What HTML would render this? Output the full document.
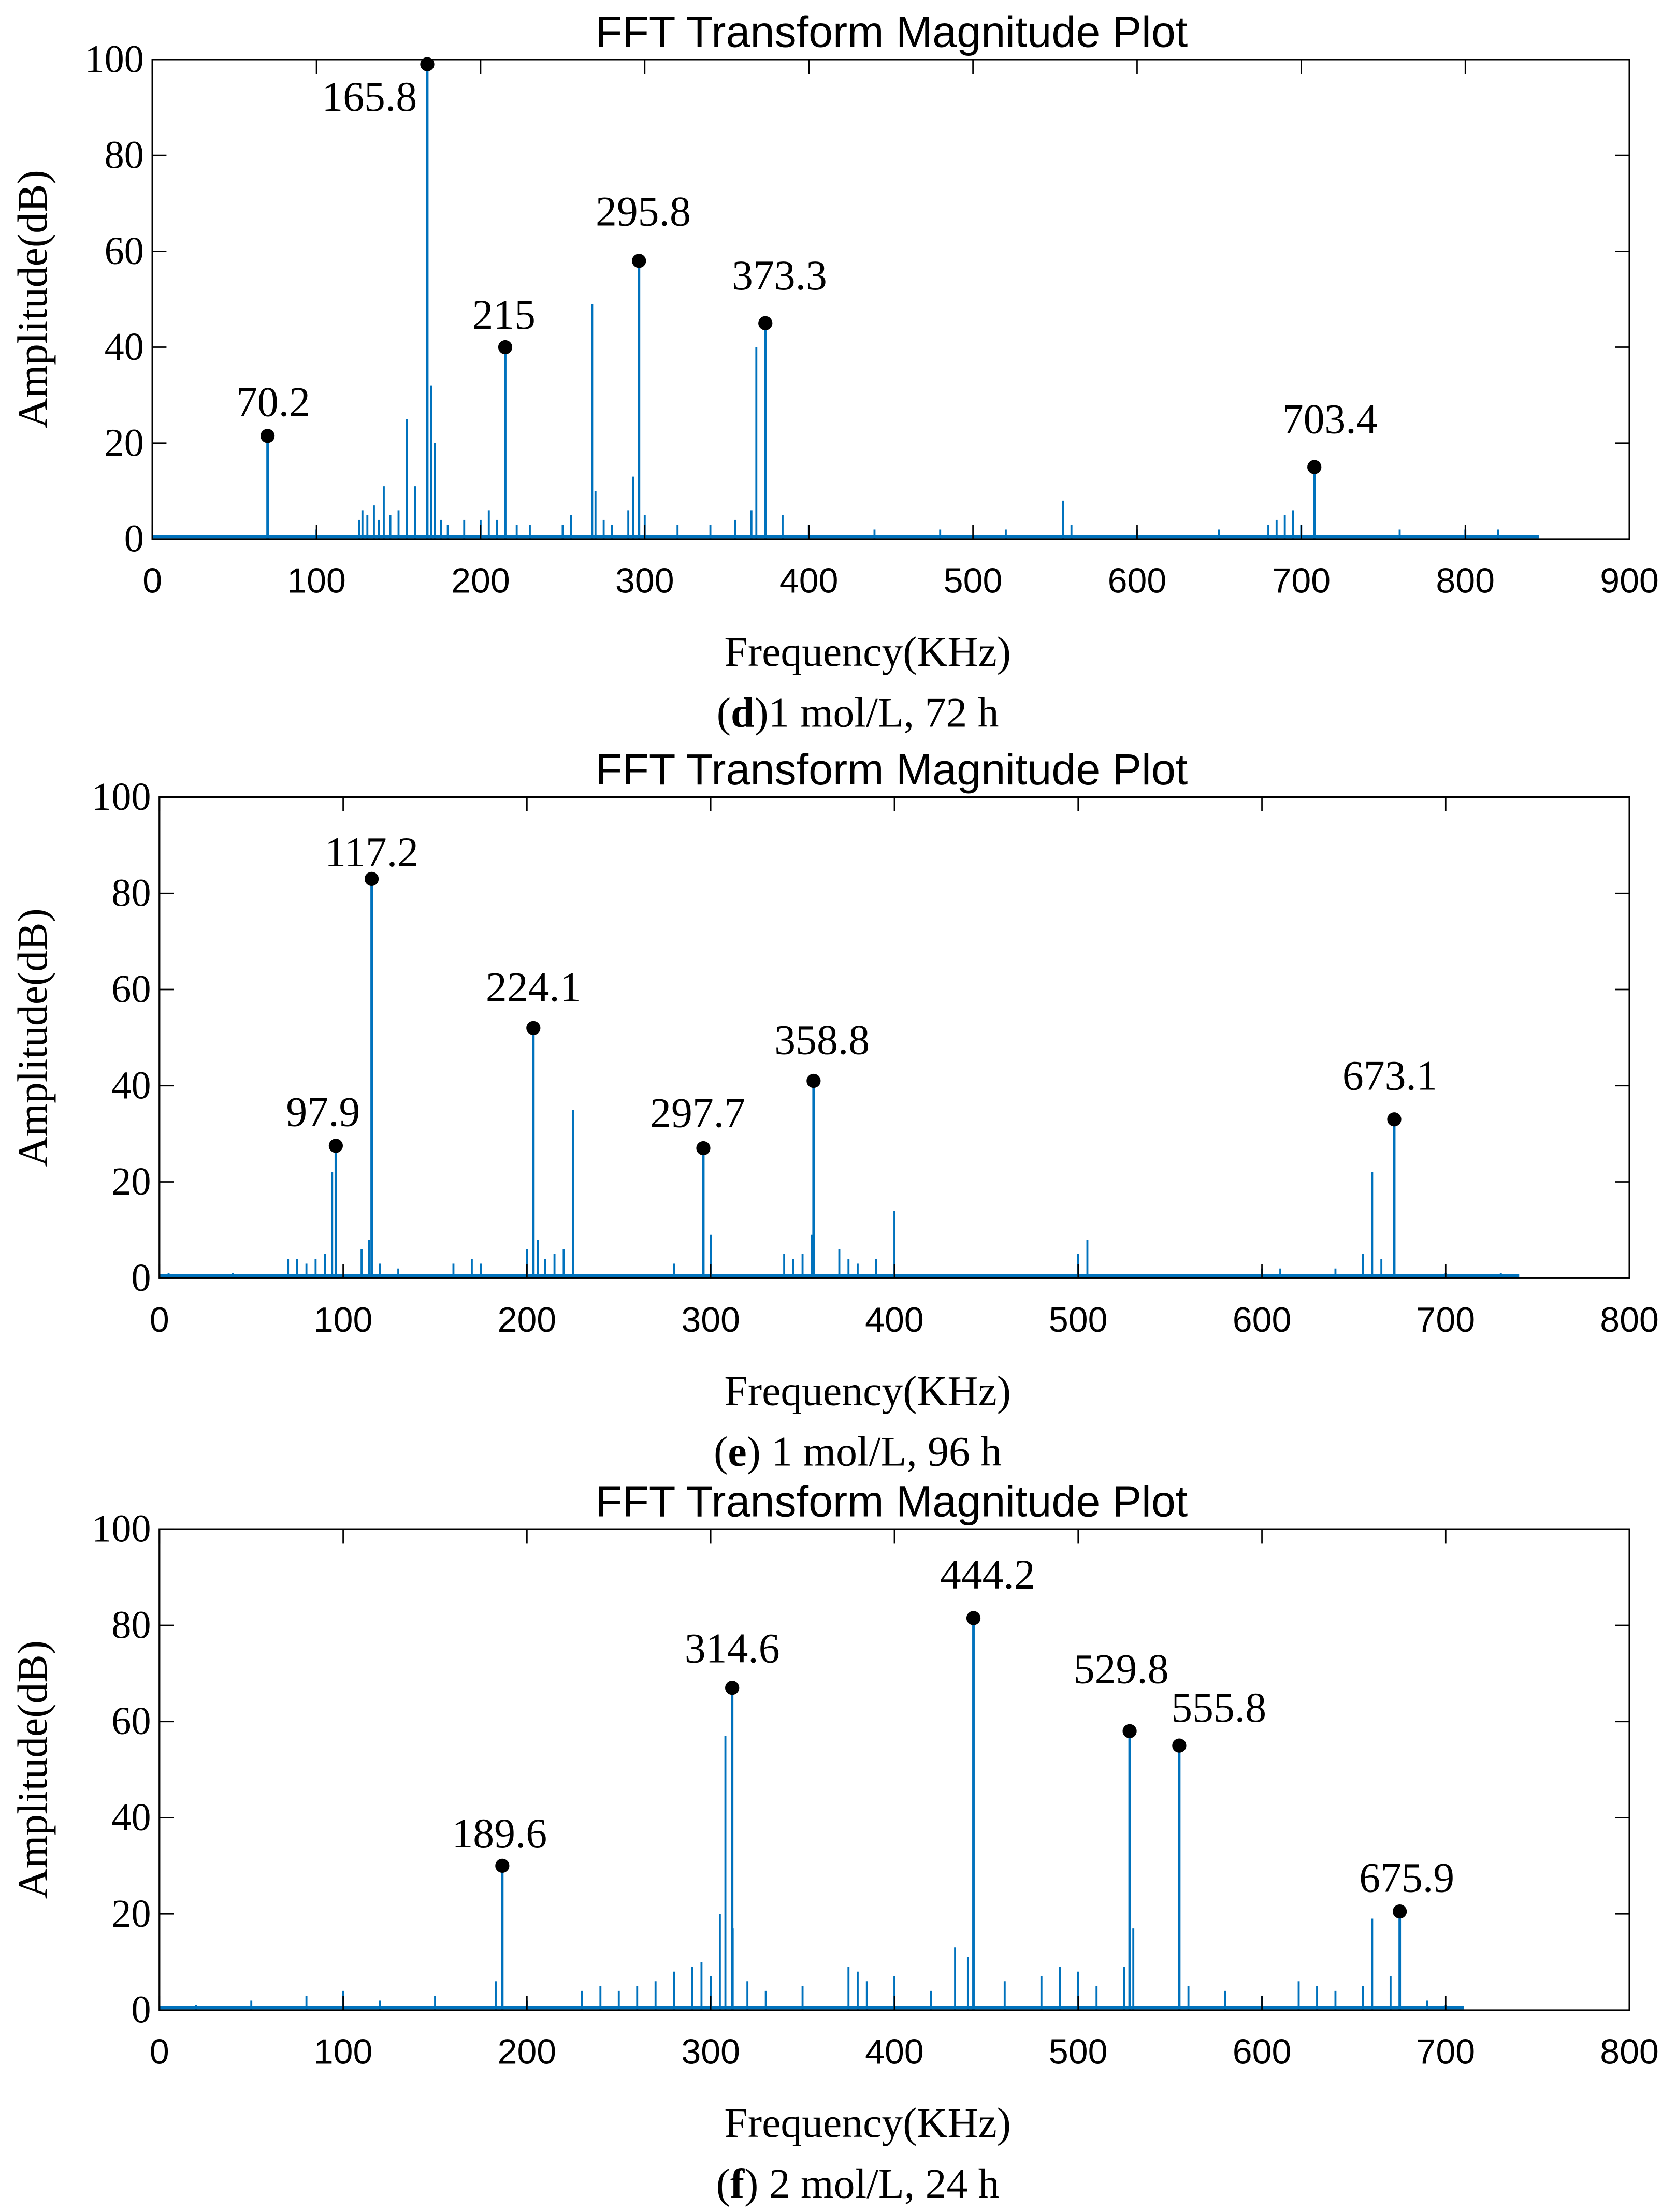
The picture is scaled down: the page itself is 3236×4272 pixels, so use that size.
<!DOCTYPE html>
<html><head><meta charset="utf-8"><style>
html,body{margin:0;padding:0;background:#fff;}
svg{display:block;}
.t{font-family:"Liberation Sans",sans-serif;font-size:31px;fill:#000;}
.tk{font-family:"Liberation Sans",sans-serif;font-size:25px;fill:#000;}
.ty{font-family:"Liberation Serif",serif;font-size:28px;fill:#000;}
.s{font-family:"Liberation Serif",serif;font-size:30px;fill:#000;}
</style></head><body>
<svg id="root" width="3236" height="4272" viewBox="0 0 1188 1568" xmlns="http://www.w3.org/2000/svg"></svg>
<script>
// ---- Panel d data ----
const dPeakFreq = [70.2, 167.5, 215, 296.5, 373.5, 708];
const dPeakAmp = [21.5, 99, 40, 58, 45, 15];
const dPeakLabel = ["70.2", "165.8", "215", "295.8", "373.3", "703.4"];
const dSpikeFreq = [100,126,128,131,135,138,141,145,150,155,160,170,172,176,180,190,200,205,210,222,230,250,255,268,270,275,280,290,293,300,320,340,355,365,368,384,400,440,480,520,555,560,600,650,680,685,690,695,700,760,800,820];
const dSpikeAmp = [2,4,6,5,7,4,11,5,6,25,11,32,20,4,3,4,4,6,4,3,3,3,5,49,10,4,3,6,13,5,3,3,4,6,40,5,3,2,2,2,8,3,2,2,3,4,5,6,3,2,2,2];
const dTicksX = [0,100,200,300,400,500,600,700,800,900];
// ---- Panel e data ----
const ePeakFreq = [96, 115.5, 203.5, 296, 356, 672];
const ePeakAmp = [27.5, 83, 52, 27, 41, 33];
const ePeakLabel = ["97.9", "117.2", "224.1", "297.7", "358.8", "673.1"];
const eSpikeFreq = [5,40,70,75,80,85,90,94,110,114,120,130,160,170,175,200,206,210,215,220,225,280,300,340,345,350,355,370,375,380,390,400,500,505,600,610,640,655,660,665,700,730];
const eSpikeAmp = [1,1,4,4,3,4,5,22,6,8,3,2,3,4,3,6,8,4,5,6,35,3,9,5,4,5,9,6,4,3,4,14,5,8,2,2,2,5,22,4,1,1];
const eTicksX = [0,100,200,300,400,500,600,700,800];
// ---- Panel f data ----
const fPeakFreq = [186.6, 311.7, 443, 528, 555, 675];
const fPeakAmp = [30, 67, 81.5, 58, 55, 20.5];
const fPeakLabel = ["189.6", "314.6", "444.2", "529.8", "555.8", "675.9"];
const fSpikeFreq = [20,50,80,100,120,150,183,200,230,240,250,260,270,280,290,295,300,305,308,312,320,330,350,375,380,385,400,420,433,440,460,480,490,500,510,525,530,560,580,600,620,630,640,655,660,670,690,700];
const fSpikeAmp = [1,2,3,4,2,3,6,2,4,5,4,5,6,8,9,10,7,20,57,17,6,4,5,9,8,6,7,4,13,11,6,7,9,8,5,9,17,5,4,3,6,5,4,5,19,7,2,1];
const fTicksX = [0,100,200,300,400,500,600,700,800];
const ticksY = [0,20,40,60,80,100];

// label placement offsets (layout, px)
const dLabDx = [4,-41,-1,3,10,11], dLabDy = [-14,33,-13,-25,-24,-24];
const eLabDx = [-9,0,0,-4,6,-3], eLabDy = [-14,-9,-19,-15,-19,-21];
const fLabDx = [-2,0,10,-6,28,5], fLabDy = [-13,-18,-21,-34,-17,-14];

const NS = "http://www.w3.org/2000/svg";
const root = document.getElementById('root');
function mk(tag, attrs, parent, text){
  const e = document.createElementNS(NS, tag);
  for (const k in attrs) e.setAttribute(k, attrs[k]);
  if (text !== undefined) e.textContent = text;
  parent.appendChild(e); return e;
}
const BLUE = "#0072BD";

function panel(id, box, xmax, dataEnd, ticksX, pF, pA, pL, sF, sA, ldx, ldy, capBold, capRest){
  const g = mk('g', {}, root);
  
  
  const [x0, y0, x1, y1] = box;
  const sx = v => x0 + (v / xmax) * (x1 - x0);
  const sy = v => y1 - (v / 100) * (y1 - y0);
  const t = mk('text', {x: 632, y: y0 - 9, 'text-anchor': 'middle', class: 't'}, g, 'FFT Transform Magnitude Plot');
  
  
  const base = mk('line', {x1: sx(0), x2: sx(dataEnd), y1: sy(0.5), y2: sy(0.5), stroke: BLUE, 'stroke-width': 2.2}, g);
  
  
  for (let i = 0; i < sF.length; i++) {
    const l = mk('line', {x1: sx(sF[i]), x2: sx(sF[i]), y1: sy(0), y2: sy(sA[i]), stroke: BLUE, 'stroke-width': 1.4}, g);
    
    
  }
  for (let i = 0; i < pF.length; i++) {
    const l = mk('line', {x1: sx(pF[i]), x2: sx(pF[i]), y1: sy(0), y2: sy(pA[i]), stroke: BLUE, 'stroke-width': 1.8}, g);
    
    
    const c = mk('circle', {cx: sx(pF[i]), cy: sy(pA[i]), r: 5, fill: '#000'}, g);
    
    
    const lab = mk('text', {x: sx(pF[i]) + ldx[i], y: sy(pA[i]) + ldy[i], 'text-anchor': 'middle', class: 's'}, g, pL[i]);
    
    
  }
  const fr = mk('rect', {x: x0, y: y0, width: x1 - x0, height: y1 - y0, fill: 'none', stroke: '#000', 'stroke-width': 1.2}, g);
  
  
  for (const v of ticksX) {
    const x = sx(v);
    mk('line', {x1: x, x2: x, y1: y1, y2: y1 - 10, stroke: '#000', 'stroke-width': 1}, g);
    mk('line', {x1: x, x2: x, y1: y0, y2: y0 + 10, stroke: '#000', 'stroke-width': 1}, g);
    const tl = mk('text', {x: x, y: y1 + 38, 'text-anchor': 'middle', class: 'tk'}, g, String(v));
    
    
  }
  for (const v of ticksY) {
    const y = sy(v);
    mk('line', {x1: x0, x2: x0 + 10, y1: y, y2: y, stroke: '#000', 'stroke-width': 1}, g);
    mk('line', {x1: x1, x2: x1 - 10, y1: y, y2: y, stroke: '#000', 'stroke-width': 1}, g);
    const tl = mk('text', {x: x0 - 6, y: y + 9, 'text-anchor': 'end', class: 'ty'}, g, String(v));
    
    
  }
  const xl = mk('text', {x: 615, y: y1 + 90, 'text-anchor': 'middle', class: 's'}, g, 'Frequency(KHz)');
  
  
  const yl = mk('text', {x: 0, y: 0, 'text-anchor': 'middle', class: 's', transform: `translate(33 ${(y0 + y1) / 2}) rotate(-90)`}, g, 'Amplitude(dB)');
  
  
  const cap = mk('text', {x: 608, y: y1 + 133, 'text-anchor': 'middle', class: 's'}, g);
  
  
  mk('tspan', {}, cap, '(');
  mk('tspan', {'font-weight': 'bold'}, cap, capBold);
  mk('tspan', {}, cap, capRest);
}
panel('panel-d', [108, 42, 1155, 382], 900, 845, dTicksX, dPeakFreq, dPeakAmp, dPeakLabel, dSpikeFreq, dSpikeAmp, dLabDx, dLabDy, 'd', ')1 mol/L, 72 h');
panel('panel-e', [113, 565, 1155, 906], 800, 740, eTicksX, ePeakFreq, ePeakAmp, ePeakLabel, eSpikeFreq, eSpikeAmp, eLabDx, eLabDy, 'e', ') 1 mol/L, 96 h');
panel('panel-f', [113, 1084, 1155, 1425], 800, 710, fTicksX, fPeakFreq, fPeakAmp, fPeakLabel, fSpikeFreq, fSpikeAmp, fLabDx, fLabDy, 'f', ') 2 mol/L, 24 h');
</script>
</body></html>
